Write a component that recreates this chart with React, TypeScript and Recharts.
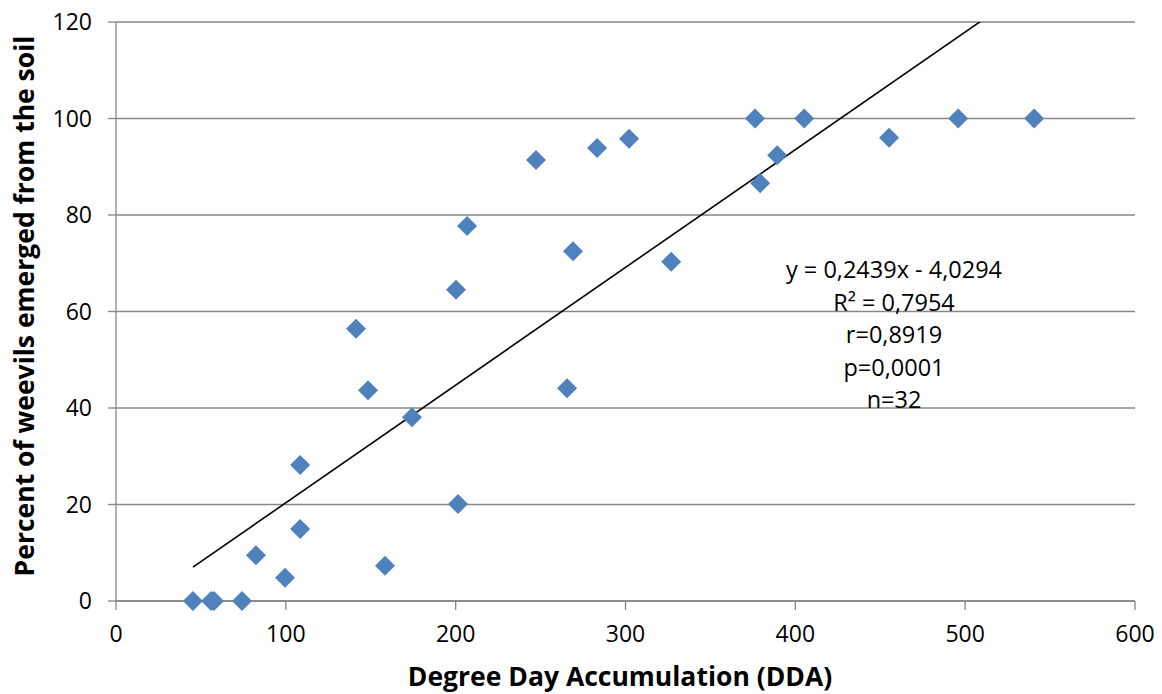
import { ScatterChart, Scatter, XAxis, YAxis, CartesianGrid, ReferenceLine, Customized } from 'recharts';

// Degree day accumulation vs. percent of weevils emerged
const ddaValues = [45.3, 56, 57.7, 74.2, 82.4, 99.5, 108.4, 108.4, 141.3, 148.4, 158.4, 174.3, 200.2, 201.4, 206.7, 247.3, 265.6, 269.1, 283.3, 302.1, 326.9, 376.3, 379.3, 389.3, 405.2, 455.2, 495.9, 540.6];
const pctValues = [0, 0, 0, 0, 9.5, 4.8, 28.2, 14.9, 56.4, 43.7, 7.3, 38.1, 64.5, 20.1, 77.7, 91.4, 44.1, 72.5, 93.9, 95.8, 70.3, 100, 86.6, 92.4, 100, 96, 100, 100];

const xTicks = [0, 100, 200, 300, 400, 500, 600];
const yTicks = [0, 20, 40, 60, 80, 100, 120];

// linear trendline from the figure's equation
const slope = 0.2439;
const intercept = -4.0294;
const statLines = ['y = 0,2439x - 4,0294', 'R² = 0,7954', 'r=0,8919', 'p=0,0001', 'n=32'];

const xTitle = 'Degree Day Accumulation (DDA)';
const yTitle = 'Percent of weevils emerged from the soil';

const points = ddaValues.map((x, i) => ({ x, y: pctValues[i] }));
const xMin = Math.min(...ddaValues);
const xMax = Math.max(...ddaValues);

const FONT = '"Open Sans", sans-serif';
const AXIS = '#868686';

function Diamond(props: any) {
  const { cx, cy } = props;
  const r = 10;
  return (
    <path
      d={`M${cx},${cy - r}L${cx + r},${cy}L${cx},${cy + r}L${cx - r},${cy}Z`}
      fill="#4f81bd"
    />
  );
}

function Texts() {
  return (
    <g fontFamily={FONT} fill="#000">
      {statLines.map((t, i) => (
        <text key={t} x={894} y={278 + i * 32.5} fontSize={23.5} textAnchor="middle">
          {t}
        </text>
      ))}
      <text x={620} y={686} fontSize={26.5} fontWeight="bold" textAnchor="middle">
        {xTitle}
      </text>
      <text
        x={0}
        y={0}
        fontSize={26.5}
        fontWeight="bold"
        textAnchor="middle"
        transform="translate(34,306) rotate(-90)"
      >
        {yTitle}
      </text>
    </g>
  );
}

export default function App() {
  return (
    <div style={{ position: 'absolute', left: 0, top: 0, width: 1162, height: 694, background: '#fff', fontFamily: FONT }}>
      <ScatterChart width={1162} height={694} margin={{ top: 22, right: 27, bottom: 0, left: 0 }}>
        <CartesianGrid vertical={false} stroke={AXIS} strokeWidth={1.3} />
        <XAxis
          type="number"
          dataKey="x"
          domain={[0, 600]}
          ticks={xTicks}
          height={93}
          stroke={AXIS}
          strokeWidth={1.3}
          tickSize={9}
          tickMargin={16}
          tick={{ fill: '#000', fontSize: 23, fontFamily: FONT }}
        />
        <YAxis
          type="number"
          dataKey="y"
          domain={[0, 120]}
          ticks={yTicks}
          width={116}
          stroke={AXIS}
          strokeWidth={1.3}
          tickSize={8}
          tickMargin={16}
          tick={{ fill: '#000', fontSize: 23, fontFamily: FONT }}
        />
        <ReferenceLine
          segment={[
            { x: xMin, y: slope * xMin + intercept },
            { x: xMax, y: slope * xMax + intercept },
          ]}
          stroke="#000"
          strokeWidth={1.6}
          ifOverflow="hidden"
        />
        <Scatter data={points} shape={<Diamond />} isAnimationActive={false} />
        <Customized component={<Texts />} />
      </ScatterChart>
    </div>
  );
}
